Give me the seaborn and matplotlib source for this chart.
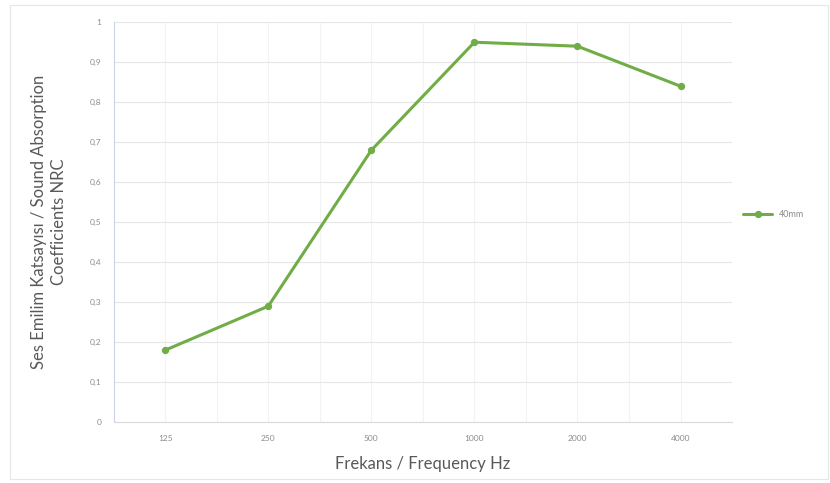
import matplotlib
matplotlib.use("Agg")
import matplotlib.pyplot as plt
from matplotlib.patches import Rectangle
import seaborn as sns
import pandas as pd

# values
frequencies = ["125", "250", "500", "1000", "2000", "4000"]
nrc_40mm = [0.18, 0.29, 0.68, 0.95, 0.94, 0.84]
y_ticks = [0, 0.1, 0.2, 0.3, 0.4, 0.5, 0.6, 0.7, 0.8, 0.9, 1.0]
y_tick_labels = ["0", "0,1", "0,2", "0,3", "0,4", "0,5", "0,6", "0,7", "0,8", "0,9", "1"]
series_name = "40mm"

sns.set_style("white")
plt.rcParams["font.family"] = ["Lato", "DejaVu Sans"]

df = pd.DataFrame({"freq": frequencies, "nrc": nrc_40mm})

fig = plt.figure(figsize=(8.30, 4.83), dpi=100)
ax = fig.add_axes([0.137, 0.126, 0.745, 0.828])

green = "#70AD47"
sns.lineplot(data=df, x="freq", y="nrc", sort=False, color=green, linewidth=2.2,
             marker="o", markersize=4.5, markeredgecolor=green, label=series_name, ax=ax)

ax.set_xlim(-0.5, len(frequencies) - 0.5)
ax.set_ylim(0, 1)
ax.set_yticks(y_ticks)
ax.set_yticklabels(y_tick_labels)

# light grid: horizontal majors, vertical at categories and between
ax.grid(axis="y", color="#E6E6E6", linewidth=0.8)
for i in range(len(frequencies)):
    ax.axvline(i, color="#F3F3F3", linewidth=0.8, zorder=0)
    ax.axvline(i + 0.5, color="#F3F3F3", linewidth=0.8, zorder=0)

for side in ["top", "right"]:
    ax.spines[side].set_visible(False)
ax.spines["left"].set_color("#C9D3EA")
ax.spines["bottom"].set_color("#D9D9D9")

ax.tick_params(axis="both", length=0, labelsize=6, labelcolor="#8C8C8C", pad=9)

ax.set_xlabel("Frekans / Frequency Hz", fontsize=12, color="#595959", labelpad=10)
ax.set_ylabel("Ses Emilim Katsayısı / Sound Absorption\nCoefficients NRC",
              fontsize=12, color="#595959", labelpad=16, linespacing=1.3)

ax.legend(loc="center left", bbox_to_anchor=(1.005, 0.52), frameon=False,
          fontsize=6.5, labelcolor="#8C8C8C", handlelength=3.2)

# outer chart frame
fig.patches.append(Rectangle((0.012, 0.008), 0.986, 0.982, transform=fig.transFigure,
                             fill=False, edgecolor="#E6E6E6", linewidth=0.8))

fig.savefig("out.png", dpi=100)
